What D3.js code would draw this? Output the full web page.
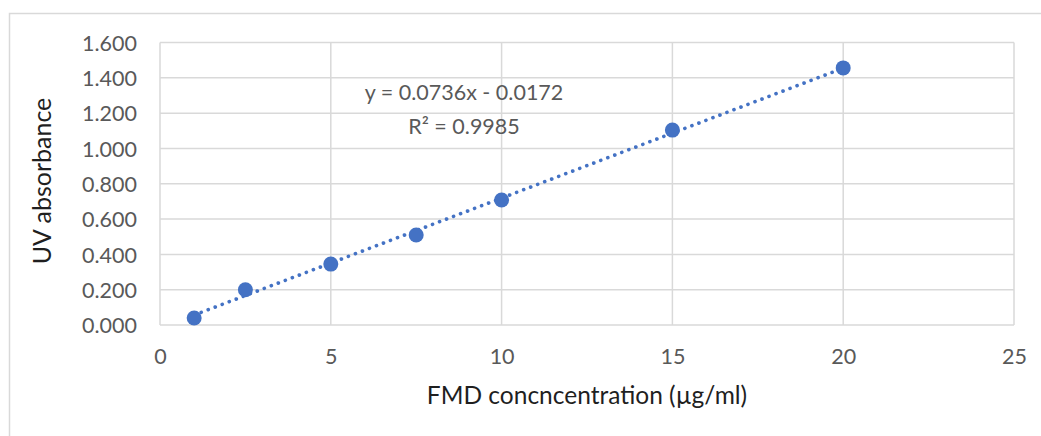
<!DOCTYPE html>
<html>
<head>
<meta charset="utf-8">
<script src="https://cdn.jsdelivr.net/npm/d3@7"></script>
<style>
  html, body { margin: 0; padding: 0; background: #fff; }
  svg { display: block; font-family: Lato, "Open Sans", sans-serif; }
</style>
</head>
<body>
<svg id="chart" width="1041" height="436"></svg>
<script>
// Data
const concentrations = [1, 2.5, 5, 7.5, 10, 15, 20];
const absorbance = [0.040, 0.200, 0.345, 0.510, 0.708, 1.104, 1.456];
const xTicks = [0, 5, 10, 15, 20, 25];
const yTicks = [0, 0.2, 0.4, 0.6, 0.8, 1.0, 1.2, 1.4, 1.6];
const slope = 0.0736;
const intercept = -0.0172;
const equationLines = ["y = 0.0736x - 0.0172", "R² = 0.9985"];
const xTitle = "FMD concncentration (µg/ml)";
const yTitle = "UV absorbance";

const svg = d3.select("#chart");
const plot = { left: 160, right: 1014, top: 42.5, bottom: 325 };

// outer chart border
svg.append("rect")
  .attr("x", 9.5).attr("y", 13.5)
  .attr("width", 1100).attr("height", 600)
  .attr("fill", "none").attr("stroke", "#d9d9d9").attr("stroke-width", 1.5);

const x = d3.scaleLinear().domain([0, 25]).range([plot.left, plot.right]);
const y = d3.scaleLinear().domain([0, 1.6]).range([plot.bottom, plot.top]);

// gridlines
const grid = svg.append("g").attr("stroke", "#d9d9d9").attr("stroke-width", 1.5);
grid.selectAll("line.h").data(yTicks).join("line").attr("class", "h")
  .attr("x1", plot.left).attr("x2", plot.right)
  .attr("y1", d => y(d)).attr("y2", d => y(d));
grid.selectAll("line.v").data(xTicks).join("line").attr("class", "v")
  .attr("y1", plot.top).attr("y2", plot.bottom)
  .attr("x1", d => x(d)).attr("x2", d => x(d));

// axes (labels only)
const xAxis = d3.axisBottom(x).tickValues(xTicks).tickSize(0).tickPadding(0).tickFormat(d3.format("d"));
const gx = svg.append("g").attr("transform", `translate(0,${plot.bottom})`).call(xAxis);
gx.select(".domain").remove();
gx.selectAll("text").attr("fill", "#595959").attr("font-size", 21.5)
  .attr("font-family", "Lato, sans-serif").attr("dy", null).attr("y", 39);

const yAxis = d3.axisLeft(y).tickValues(yTicks).tickSize(0).tickPadding(0).tickFormat(d3.format(".3f"));
const gy = svg.append("g").attr("transform", `translate(137,0)`).call(yAxis);
gy.select(".domain").remove();
gy.selectAll("text").attr("fill", "#595959").attr("font-size", 21.5)
  .attr("font-family", "Lato, sans-serif").attr("x", 0).attr("dy", "0.36em");

// trendline
const tx = d3.extent(concentrations);
const trend = tx.map(v => [v, slope * v + intercept]);
svg.append("path")
  .datum(trend)
  .attr("d", d3.line().x(d => x(d[0])).y(d => y(d[1])))
  .attr("fill", "none")
  .attr("stroke", "#4472C4")
  .attr("stroke-width", 3.6)
  .attr("stroke-linecap", "round")
  .attr("stroke-dasharray", "0.1,7.4");

// points
svg.append("g").selectAll("circle")
  .data(concentrations.map((c, i) => [c, absorbance[i]]))
  .join("circle")
  .attr("cx", d => x(d[0])).attr("cy", d => y(d[1]))
  .attr("r", 7.5).attr("fill", "#4472C4");

// equation label
svg.append("g").selectAll("text").data(equationLines).join("text")
  .attr("x", 464).attr("y", (d, i) => 100 + i * 34)
  .attr("text-anchor", "middle")
  .attr("font-size", 21.5).attr("fill", "#595959")
  .text(d => d);

// axis titles
svg.append("text")
  .attr("x", 587).attr("y", 404)
  .attr("text-anchor", "middle")
  .attr("font-size", 24.5).attr("fill", "#1f1f1f")
  .text(xTitle);

svg.append("text")
  .attr("transform", "translate(51,181) rotate(-90)")
  .attr("text-anchor", "middle")
  .attr("font-size", 25).attr("fill", "#1f1f1f")
  .text(yTitle);
</script>
</body>
</html>
